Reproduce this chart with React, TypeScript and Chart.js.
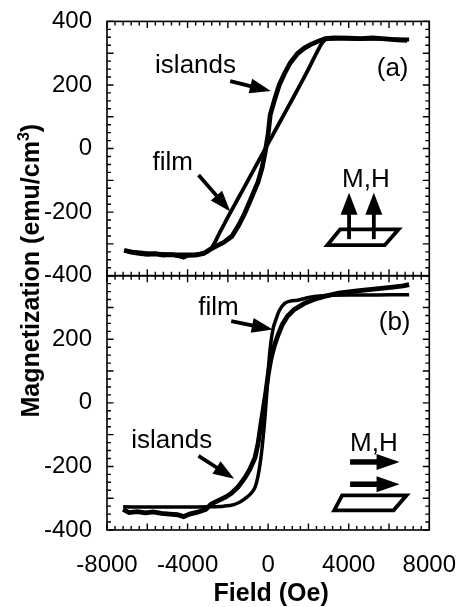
import React, { useEffect, useRef } from 'react';
import { Chart, registerables } from 'chart.js';

Chart.register(...registerables);

const FONT = '"Liberation Sans", Arial, Helvetica, sans-serif';

// ---- Data (Field in Oe, Magnetization in emu/cm^3) ----
// Panel (a): perpendicular field
const filmAField = [-7150, -6500, -6000, -5000, -4000, -3500, -3100, -2800, -2400, -2000, -1500, -1000, -500, 0, 500, 1000, 1500, 2000, 2400, 2700, 2900, 3500, 4500, 5500, 6500, 7000];
const filmAMag = [-322, -326, -329, -332, -333, -332, -326, -312, -264, -216, -158, -100, -42, 16, 74, 132, 190, 250, 300, 334, 344, 346, 345, 345, 343, 343];

const islandsAField = [-7150, -6800, -6400, -6000, -5600, -5200, -4800, -4400, -4200, -4000, -3600, -3200, -2900, -2600, -2200, -1800, -1450, -1150, -800, -500, -300, -150, 0, 100, 330, 550, 820, 1100, 1460, 1800, 2100, 2500, 2840, 3300, 4000, 4600, 5200, 5800, 6400, 6900];
const islandsAMag = [-320, -326, -330, -333, -331, -335, -334, -338, -342, -336, -335, -330, -318, -308, -295, -276, -240, -202, -150, -105, -60, -12, 45, 105, 156, 200, 237, 270, 299, 316, 327, 338, 346, 348, 347, 346, 348, 345, 342, 340];

// Panel (b): in-plane field
const filmBField = [-7200, -6000, -5000, -4000, -3000, -2200, -1700, -1400, -1145, -900, -654, -500, -359, -250, -162, -80, -15, 60, 133, 250, 379, 550, 821, 1100, 1460, 1900, 2300, 3000, 4000, 5000, 6000, 7000];
const filmBMag = [-327, -328, -328, -328, -327, -325, -320, -312, -301, -288, -266, -230, -173, -110, -49, 20, 87, 145, 189, 235, 261, 290, 313, 320, 323, 330, 335, 338, 339, 339, 340, 340];

const islandsBField = [-7200, -6900, -6500, -6100, -5700, -5300, -4900, -4500, -4200, -3900, -3500, -3100, -2817, -2400, -2100, -1834, -1500, -1145, -900, -654, -500, -359, -230, -113, 0, 133, 300, 477, 700, 968, 1300, 1804, 2300, 2788, 3500, 4410, 5000, 5600, 6200, 6700, 7000];
const islandsBMag = [-335, -345, -342, -346, -343, -348, -350, -352, -358, -350, -344, -335, -318, -305, -296, -285, -265, -235, -208, -173, -128, -68, -15, 34, 88, 137, 178, 211, 246, 273, 294, 313, 326, 335, 345, 352, 356, 360, 364, 368, 372];

const xTickValues = [-8000, -4000, 0, 4000, 8000];
const yTickValuesA = [-400, -200, 0, 200, 400];
const yTickValuesB = [-400, -200, 0, 200];

const xTitle = 'Field (Oe)';
const yTitleMain = 'Magnetization (emu/cm';
const yTitleSup = '3';
const yTitleEnd = ')';
const panelLabels = ['(a)', '(b)'];
const curveLabels = ['islands', 'film'];
const arrowLabel = 'M,H';

const toPoints = (xs: number[], ys: number[]) => xs.map((x, i) => ({ x, y: ys[i] }));

// Annotation layout, in data coordinates of each panel
const annotationsA = {
  islandsText: [-3604, 259], islandsArrow: [[-1883, 212], [133, 181]],
  filmText: [-4735, -46], filmArrow: [[-3456, -83], [-1883, -198]],
  panelText: [6180, 252], mhText: [4853, -98],
};
const annotationsB = {
  islandsText: [-4784, -121], islandsArrow: [[-3456, -167], [-1686, -239]],
  filmText: [-2463, 298], filmArrow: [[-1834, 257], [231, 231]],
  panelText: [6278, 251], mhText: [5246, -130],
};

function drawArrow(ctx: CanvasRenderingContext2D, x1: number, y1: number, x2: number, y2: number, shaft: number, headLen: number, headW: number) {
  const ang = Math.atan2(y2 - y1, x2 - x1);
  const c = Math.cos(ang), s = Math.sin(ang);
  const bx = x2 - headLen * c, by = y2 - headLen * s;
  ctx.lineWidth = shaft;
  ctx.lineCap = 'butt';
  ctx.beginPath();
  ctx.moveTo(x1, y1);
  ctx.lineTo(bx + c, by + s);
  ctx.stroke();
  ctx.beginPath();
  ctx.moveTo(x2, y2);
  ctx.lineTo(bx + (headW / 2) * s, by - (headW / 2) * c);
  ctx.lineTo(bx - (headW / 2) * s, by + (headW / 2) * c);
  ctx.closePath();
  ctx.fill();
}

const framePlugin = {
  id: 'frameAndNotes',
  afterDatasetsDraw(chart: any) {
    const ctx: CanvasRenderingContext2D = chart.ctx;
    const xs = chart.scales.x;
    const ya = chart.scales.yA;
    const yb = chart.scales.yB;
    const { left, right } = chart.chartArea;
    ctx.save();
    ctx.strokeStyle = '#000';
    ctx.fillStyle = '#000';

    // frames + inward ticks
    [ya, yb].forEach((ys: any) => {
      const top = ys.top, bottom = ys.bottom;
      ctx.lineWidth = 1.6;
      ctx.strokeRect(left, top, right - left, bottom - top);
      ctx.beginPath();
      for (let v = -8000; v <= 8000; v += 400) {
        const px = xs.getPixelForValue(v);
        const len = v % 2000 === 0 ? 6.5 : 4;
        ctx.moveTo(px, top); ctx.lineTo(px, top + len);
        ctx.moveTo(px, bottom); ctx.lineTo(px, bottom - len);
      }
      for (let v = -400; v <= 400; v += 25) {
        const py = ys.getPixelForValue(v);
        const len = v % 100 === 0 ? 6.5 : 4;
        ctx.moveTo(left, py); ctx.lineTo(left + len, py);
        ctx.moveTo(right, py); ctx.lineTo(right - len, py);
      }
      ctx.lineWidth = 1.4;
      ctx.stroke();
    });

    // annotations
    const P = (ys: any, p: number[]) => [xs.getPixelForValue(p[0]), ys.getPixelForValue(p[1])];
    ctx.font = `26px ${FONT}`;
    ctx.textAlign = 'center';
    ctx.textBaseline = 'middle';
    const notes: [any, any, string][] = [[ya, annotationsA, panelLabels[0]], [yb, annotationsB, panelLabels[1]]];
    notes.forEach(([ys, an, lab]) => {
      let p = P(ys, an.islandsText); ctx.fillText(curveLabels[0], p[0], p[1]);
      p = P(ys, an.filmText); ctx.fillText(curveLabels[1], p[0], p[1]);
      p = P(ys, an.panelText); ctx.fillText(lab, p[0], p[1]);
      p = P(ys, an.mhText); ctx.fillText(arrowLabel, p[0], p[1]);
      let a = P(ys, an.islandsArrow[0]), b = P(ys, an.islandsArrow[1]);
      drawArrow(ctx, a[0], a[1], b[0], b[1], 3.8, 21, 15);
      a = P(ys, an.filmArrow[0]); b = P(ys, an.filmArrow[1]);
      drawArrow(ctx, a[0], a[1], b[0], b[1], 3.8, 21, 15);
    });

    // (a) sketch: field perpendicular
    ctx.lineWidth = 3.8;
    ctx.lineJoin = 'miter';
    const paraA = [[3574, -254], [6475, -254], [5787, -304], [2935, -304]].map(q => P(ya, q));
    ctx.beginPath();
    paraA.forEach((q, i) => (i ? ctx.lineTo(q[0], q[1]) : ctx.moveTo(q[0], q[1])));
    ctx.closePath();
    ctx.stroke();
    [4017, 5246].forEach(fx => {
      const a = P(ya, [fx, -285]), b = P(ya, [fx, -139]);
      drawArrow(ctx, a[0], a[1], b[0], b[1], 3.8, 22, 17);
    });

    // (b) sketch: field in-plane
    const paraB = [[3672, -291], [6869, -291], [6229, -338], [3279, -338]].map(q => P(yb, q));
    ctx.lineWidth = 3.8;
    ctx.beginPath();
    paraB.forEach((q, i) => (i ? ctx.lineTo(q[0], q[1]) : ctx.moveTo(q[0], q[1])));
    ctx.closePath();
    ctx.stroke();
    [-186, -256].forEach(fy => {
      const a = P(yb, [4066, fy]), b = P(yb, [6524, fy]);
      drawArrow(ctx, a[0], a[1], b[0], b[1], 5.5, 23, 16);
    });

    // axis titles
    ctx.font = `bold 25px ${FONT}`;
    ctx.textAlign = 'center';
    ctx.textBaseline = 'alphabetic';
    ctx.fillText(xTitle, xs.getPixelForValue(0) + 3, 601);

    const cy = (ya.top + yb.bottom) / 2 - 5;
    ctx.translate(39, cy);
    ctx.rotate(-Math.PI / 2);
    ctx.textAlign = 'left';
    const w1 = ctx.measureText(yTitleMain).width;
    const w3 = ctx.measureText(yTitleEnd).width;
    ctx.font = `bold 16px ${FONT}`;
    const w2 = ctx.measureText(yTitleSup).width;
    const total = w1 + w2 + w3;
    let sx = -total / 2;
    ctx.font = `bold 25px ${FONT}`;
    ctx.fillText(yTitleMain, sx, 0);
    sx += w1;
    ctx.font = `bold 16px ${FONT}`;
    ctx.fillText(yTitleSup, sx, -10);
    sx += w2;
    ctx.font = `bold 25px ${FONT}`;
    ctx.fillText(yTitleEnd, sx, 0);
    ctx.restore();
  },
};

export default function App() {
  const ref = useRef<HTMLCanvasElement | null>(null);
  useEffect(() => {
    if (!ref.current) return;
    const lineDs = (label: string, xs: number[], ys: number[], axis: string, width: number, smooth: boolean) => ({
      label,
      data: toPoints(xs, ys),
      yAxisID: axis,
      showLine: true,
      borderColor: '#000',
      backgroundColor: '#000',
      borderWidth: width,
      pointRadius: 0,
      tension: 0,
      cubicInterpolationMode: smooth ? 'monotone' : 'default',
      fill: false,
    });
    const tickFont = { family: FONT, size: 24 };
    const chart = new Chart(ref.current, {
      type: 'scatter',
      data: {
        datasets: [
          lineDs('film (a)', filmAField, filmAMag, 'yA', 3.8, true),
          lineDs('islands (a)', islandsAField, islandsAMag, 'yA', 4.8, false),
          lineDs('film (b)', filmBField, filmBMag, 'yB', 3.5, true),
          lineDs('islands (b)', islandsBField, islandsBMag, 'yB', 4.8, false),
        ] as any,
      },
      plugins: [framePlugin],
      options: {
        animation: false,
        responsive: true,
        maintainAspectRatio: false,
        layout: { padding: { top: 15, right: 36, left: 0, bottom: 0 } },
        plugins: { legend: { display: false }, tooltip: { enabled: false } },
        scales: {
          x: {
            type: 'linear',
            min: -8000,
            max: 8000,
            grid: { display: false },
            border: { display: false },
            afterBuildTicks: (s: any) => { s.ticks = xTickValues.map(v => ({ value: v })); },
            afterFit: (s: any) => { s.height = 77; },
            ticks: { font: tickFont, color: '#000', padding: 13, maxRotation: 0, autoSkip: false, callback: (v: any) => String(v) },
          },
          yA: {
            type: 'linear',
            position: 'left',
            stack: 'panels',
            stackWeight: 1,
            weight: 2,
            min: -400,
            max: 400,
            grid: { display: false },
            border: { display: false },
            afterBuildTicks: (s: any) => { s.ticks = yTickValuesA.map(v => ({ value: v })); },
            afterFit: (s: any) => { s.width = 107; },
            ticks: { font: tickFont, color: '#000', padding: 7, autoSkip: false, callback: (v: any) => String(v) },
          },
          yB: {
            type: 'linear',
            position: 'left',
            stack: 'panels',
            stackWeight: 1,
            weight: 1,
            min: -400,
            max: 400,
            grid: { display: false },
            border: { display: false },
            afterBuildTicks: (s: any) => { s.ticks = yTickValuesB.map(v => ({ value: v })); },
            afterFit: (s: any) => { s.width = 107; },
            ticks: { font: tickFont, color: '#000', padding: 7, autoSkip: false, callback: (v: any) => String(v) },
          },
        } as any,
      },
    });
    return () => chart.destroy();
  }, []);
  return (
    <div style={{ position: 'absolute', left: 0, top: 0, width: 469, height: 607, background: '#fff' }}>
      <canvas ref={ref} />
    </div>
  );
}
